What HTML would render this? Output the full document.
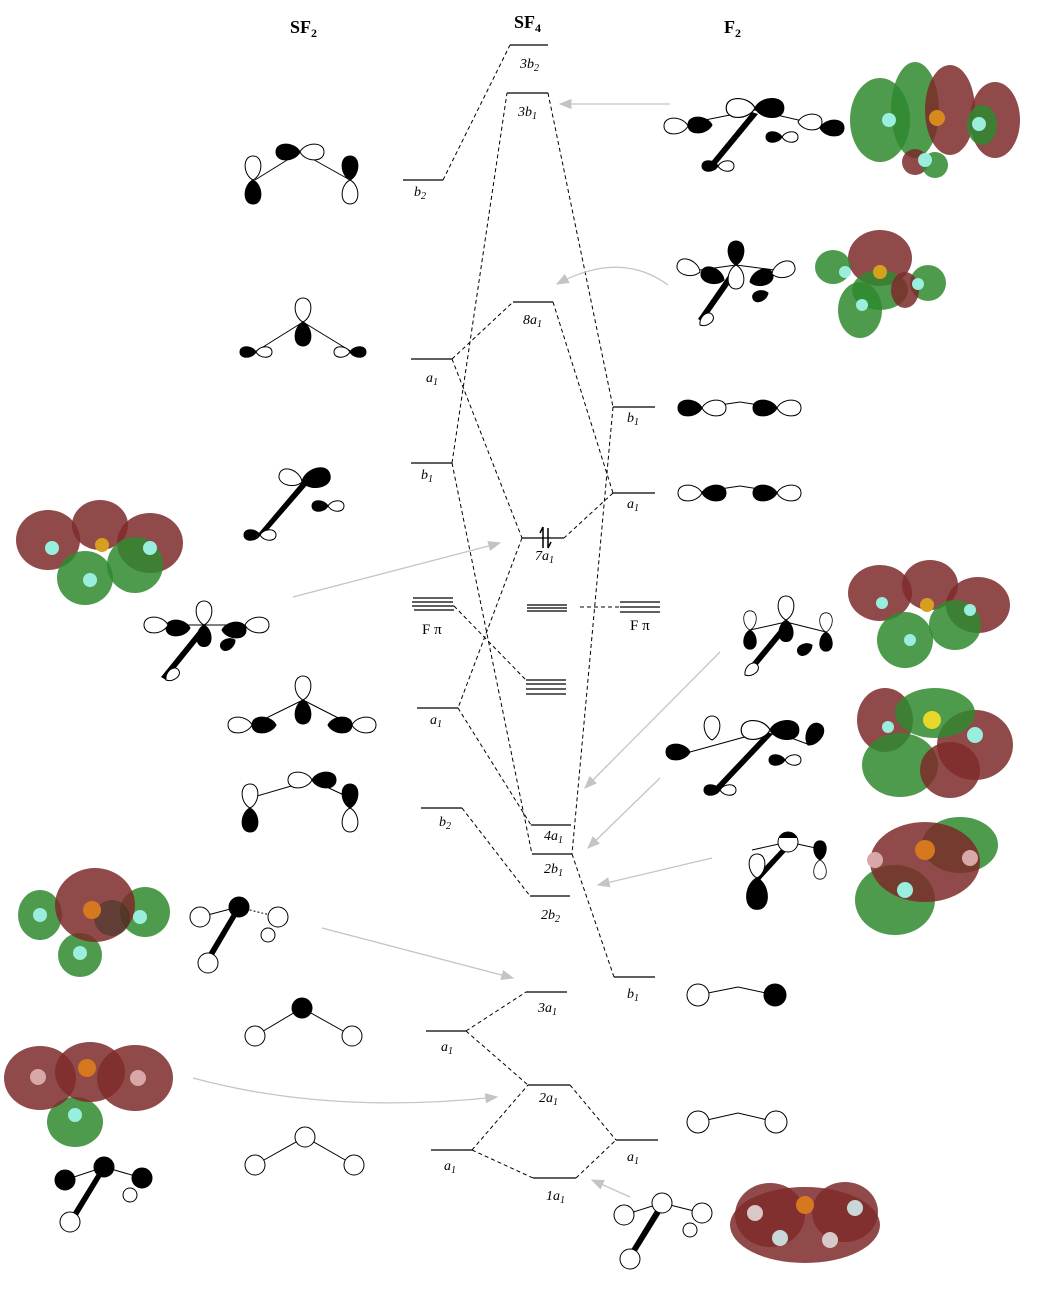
<!DOCTYPE html>
<html><head><meta charset="utf-8"><style>
html,body{margin:0;padding:0;background:#fff}
svg{display:block}
text{font-family:"Liberation Serif",serif}
.lv{stroke:#000;stroke-width:1.3}
.d{stroke:#000;stroke-width:1;stroke-dasharray:4,3;fill:none}
.g{stroke:#c4c4c4;stroke-width:1.3;fill:none}
.it{font-style:italic;font-size:14px}
.b{fill:#000;stroke:#000;stroke-width:1}
.w{fill:#fff;stroke:#000;stroke-width:1}
.R{fill:#7e2a2a;opacity:.85}
.G{fill:#2f8a2f;opacity:.85}
</style></head><body>
<svg width="1057" height="1293" viewBox="0 0 1057 1293" xmlns="http://www.w3.org/2000/svg">
<defs>
<path id="L" d="M0,0 C5,-10 24,-11 24,0 C24,11 5,10 0,0Z"/>
<path id="S" d="M0,0 C4,-7 16,-7 16,0 C16,7 4,7 0,0Z"/>
<marker id="ah" markerWidth="10" markerHeight="8" refX="9" refY="4" orient="auto"><path d="M0,0 L10,4 L0,8 Z" fill="#c4c4c4"/></marker>
</defs>

<text x="290" y="33" font-size="18" font-weight="bold">SF<tspan font-size="12" dy="4">2</tspan></text>
<text x="514" y="28" font-size="18" font-weight="bold">SF<tspan font-size="12" dy="4">4</tspan></text>
<text x="724" y="33" font-size="18" font-weight="bold">F<tspan font-size="12" dy="4">2</tspan></text>

<!-- levels -->
<g class="lv">
<line x1="510" y1="45" x2="548" y2="45"/>
<line x1="507" y1="93" x2="548" y2="93"/>
<line x1="403" y1="180" x2="443" y2="180"/>
<line x1="513" y1="302" x2="553" y2="302"/>
<line x1="411" y1="359" x2="452" y2="359"/>
<line x1="613" y1="407" x2="655" y2="407"/>
<line x1="411" y1="463" x2="452" y2="463"/>
<line x1="613" y1="493" x2="655" y2="493"/>
<line x1="522" y1="538" x2="564" y2="538"/>
<line x1="413" y1="598" x2="453" y2="598"/><line x1="412" y1="602" x2="453" y2="602"/><line x1="412" y1="606" x2="454" y2="606"/><line x1="414" y1="610" x2="454" y2="610"/>
<line x1="527" y1="605" x2="567" y2="605"/><line x1="527" y1="608" x2="567" y2="608"/><line x1="527" y1="611" x2="567" y2="611"/>
<line x1="620" y1="602" x2="660" y2="602"/><line x1="620" y1="607" x2="660" y2="607"/><line x1="620" y1="612" x2="660" y2="612"/>
<line x1="526" y1="680" x2="566" y2="680"/><line x1="526" y1="684" x2="566" y2="684"/><line x1="526" y1="689" x2="566" y2="689"/><line x1="526" y1="694" x2="566" y2="694"/>
<line x1="417" y1="708" x2="458" y2="708"/>
<line x1="421" y1="808" x2="462" y2="808"/>
<line x1="531" y1="825" x2="571" y2="825"/>
<line x1="532" y1="854" x2="572" y2="854"/>
<line x1="530" y1="896" x2="570" y2="896"/>
<line x1="614" y1="977" x2="655" y2="977"/>
<line x1="526" y1="992" x2="567" y2="992"/>
<line x1="426" y1="1031" x2="466" y2="1031"/>
<line x1="528" y1="1085" x2="570" y2="1085"/>
<line x1="616" y1="1140" x2="658" y2="1140"/>
<line x1="431" y1="1150" x2="472" y2="1150"/>
<line x1="533" y1="1178" x2="576" y2="1178"/>
</g>
<!-- electrons -->
<path d="M543,527 L543,548 M540,533 L543,527 M548,528 L548,548 L551,542" stroke="#000" stroke-width="1.5" fill="none"/>

<!-- labels -->
<g class="it">
<text x="520" y="68">3b<tspan font-size="10" dy="3">2</tspan></text>
<text x="518" y="116">3b<tspan font-size="10" dy="3">1</tspan></text>
<text x="414" y="196">b<tspan font-size="10" dy="3">2</tspan></text>
<text x="523" y="324">8a<tspan font-size="10" dy="3">1</tspan></text>
<text x="426" y="382">a<tspan font-size="10" dy="3">1</tspan></text>
<text x="627" y="422">b<tspan font-size="10" dy="3">1</tspan></text>
<text x="421" y="479">b<tspan font-size="10" dy="3">1</tspan></text>
<text x="627" y="508">a<tspan font-size="10" dy="3">1</tspan></text>
<text x="535" y="560">7a<tspan font-size="10" dy="3">1</tspan></text>
<text x="430" y="724">a<tspan font-size="10" dy="3">1</tspan></text>
<text x="439" y="826">b<tspan font-size="10" dy="3">2</tspan></text>
<text x="544" y="840">4a<tspan font-size="10" dy="3">1</tspan></text>
<text x="544" y="873">2b<tspan font-size="10" dy="3">1</tspan></text>
<text x="541" y="919">2b<tspan font-size="10" dy="3">2</tspan></text>
<text x="627" y="998">b<tspan font-size="10" dy="3">1</tspan></text>
<text x="538" y="1012">3a<tspan font-size="10" dy="3">1</tspan></text>
<text x="441" y="1051">a<tspan font-size="10" dy="3">1</tspan></text>
<text x="539" y="1102">2a<tspan font-size="10" dy="3">1</tspan></text>
<text x="627" y="1161">a<tspan font-size="10" dy="3">1</tspan></text>
<text x="444" y="1170">a<tspan font-size="10" dy="3">1</tspan></text>
<text x="546" y="1200">1a<tspan font-size="10" dy="3">1</tspan></text>
</g>
<text x="422" y="634" font-size="15">F π</text>
<text x="630" y="630" font-size="15">F π</text>

<!-- dashed connectors -->
<g class="d">
<line x1="443" y1="180" x2="510" y2="45"/>
<line x1="452" y1="463" x2="507" y2="93"/>
<line x1="548" y1="93" x2="613" y2="407"/>
<line x1="452" y1="359" x2="513" y2="302"/>
<line x1="553" y1="302" x2="613" y2="493"/>
<line x1="452" y1="359" x2="522" y2="538"/>
<line x1="613" y1="407" x2="572" y2="854"/>
<line x1="613" y1="493" x2="564" y2="538"/>
<line x1="452" y1="463" x2="532" y2="854"/>
<line x1="522" y1="538" x2="458" y2="708"/>
<line x1="458" y1="708" x2="531" y2="825"/>
<line x1="454" y1="606" x2="526" y2="680"/>
<line x1="580" y1="607" x2="620" y2="607"/>
<line x1="462" y1="808" x2="530" y2="896"/>
<line x1="572" y1="854" x2="614" y2="977"/>
<line x1="466" y1="1031" x2="526" y2="992"/>
<line x1="466" y1="1031" x2="528" y2="1085"/>
<line x1="472" y1="1150" x2="528" y2="1085"/>
<line x1="472" y1="1150" x2="533" y2="1178"/>
<line x1="570" y1="1085" x2="616" y2="1140"/>
<line x1="576" y1="1178" x2="616" y2="1140"/>
</g>

<!-- gray arrows -->
<g class="g" marker-end="url(#ah)">
<line x1="670" y1="104" x2="560" y2="104"/>
<path d="M668,285 Q620,250 557,284"/>
<line x1="293" y1="597" x2="500" y2="543"/>
<line x1="720" y1="652" x2="585" y2="788"/>
<line x1="660" y1="778" x2="588" y2="848"/>
<line x1="712" y1="858" x2="598" y2="885"/>
<line x1="322" y1="928" x2="513" y2="978"/>
<path d="M193,1078 Q330,1115 497,1097"/>
<line x1="630" y1="1197" x2="592" y2="1180"/>
</g>

<!-- SF2 orbital sketches -->
<g>
 <!-- 1 b2 -->
 <line x1="255" y1="180" x2="300" y2="152" stroke="#000"/><line x1="300" y1="152" x2="350" y2="180" stroke="#000"/>
 <use href="#L" class="b" transform="translate(300,152) rotate(180)"/><use href="#L" class="w" transform="translate(300,152)"/>
 <use href="#L" class="w" transform="translate(253,180) rotate(-90)"/><use href="#L" class="b" transform="translate(253,180) rotate(90)"/>
 <use href="#L" class="b" transform="translate(350,180) rotate(-90)"/><use href="#L" class="w" transform="translate(350,180) rotate(90)"/>
 <!-- 2 a1 -->
 <line x1="255" y1="352" x2="303" y2="322" stroke="#000"/><line x1="303" y1="322" x2="352" y2="352" stroke="#000"/>
 <use href="#L" class="w" transform="translate(303,322) rotate(-90)"/><use href="#L" class="b" transform="translate(303,322) rotate(90)"/>
 <use href="#S" class="b" transform="translate(256,352) rotate(180)"/><use href="#S" class="w" transform="translate(256,352)"/>
 <use href="#S" class="b" transform="translate(350,352)"/><use href="#S" class="w" transform="translate(350,352) rotate(180)"/>
 <!-- 3 b1 -->
 <polygon points="302,482 308,484 262,537 258,534" fill="#000"/>
 <use href="#L" class="w" transform="translate(302,482) rotate(-160)"/><use href="#L" class="b" transform="translate(302,482) rotate(-15) scale(1.2)"/>
 <use href="#S" class="b" transform="translate(260,535) rotate(180)"/><use href="#S" class="w" transform="translate(260,535)"/>
 <use href="#S" class="b" transform="translate(328,506) rotate(180)"/><use href="#S" class="w" transform="translate(328,506)"/>
 <!-- 4 -->
 <polygon points="203,625 208,628 166,680 161,677" fill="#000"/>
 <line x1="170" y1="625" x2="204" y2="625" stroke="#000"/><line x1="204" y1="625" x2="245" y2="625" stroke="#000"/>
 <use href="#L" class="w" transform="translate(204,625) rotate(-90)"/><use href="#L" class="b" transform="translate(204,625) rotate(90) scale(.9)"/>
 <use href="#L" class="b" transform="translate(190,628) rotate(180)"/><use href="#L" class="w" transform="translate(168,625) rotate(180)"/>
 <use href="#L" class="b" transform="translate(222,630)"/><use href="#L" class="w" transform="translate(245,625)"/>
 <use href="#S" class="b" transform="translate(235,640) rotate(150)"/>
 <use href="#S" class="w" transform="translate(166,680) rotate(-40)"/>
 <!-- 5 a1 -->
 <line x1="252" y1="725" x2="303" y2="700" stroke="#000"/><line x1="303" y1="700" x2="352" y2="725" stroke="#000"/>
 <use href="#L" class="w" transform="translate(303,700) rotate(-90)"/><use href="#L" class="b" transform="translate(303,700) rotate(90)"/>
 <use href="#L" class="b" transform="translate(276,725) rotate(180)"/><use href="#L" class="w" transform="translate(252,725) rotate(180)"/>
 <use href="#L" class="b" transform="translate(328,725)"/><use href="#L" class="w" transform="translate(352,725)"/>
 <!-- 6 b2 -->
 <line x1="250" y1="798" x2="312" y2="780" stroke="#000"/><line x1="312" y1="780" x2="350" y2="798" stroke="#000"/>
 <use href="#L" class="w" transform="translate(312,780) rotate(180)"/><use href="#L" class="b" transform="translate(312,780)"/>
 <use href="#L" class="w" transform="translate(250,808) rotate(-90)"/><use href="#L" class="b" transform="translate(250,808) rotate(90)"/>
 <use href="#L" class="b" transform="translate(350,808) rotate(-90)"/><use href="#L" class="w" transform="translate(350,808) rotate(90)"/>
 <!-- 7 -->
 <line x1="200" y1="917" x2="238" y2="907" stroke="#000"/><line x1="238" y1="907" x2="278" y2="917" stroke="#000" stroke-dasharray="2,2"/>
 <polygon points="236,907 241,909 210,962 205,959" fill="#000"/>
 <circle cx="200" cy="917" r="10" class="w"/><circle cx="278" cy="917" r="10" class="w"/><circle cx="268" cy="935" r="7" class="w"/>
 <circle cx="208" cy="963" r="10" class="w"/><circle cx="239" cy="907" r="10" class="b"/>
 <!-- 8 -->
 <line x1="255" y1="1036" x2="302" y2="1008" stroke="#000"/><line x1="302" y1="1008" x2="352" y2="1036" stroke="#000"/>
 <circle cx="302" cy="1008" r="10" class="b"/><circle cx="255" cy="1036" r="10" class="w"/><circle cx="352" cy="1036" r="10" class="w"/>
 <!-- 9 -->
 <line x1="255" y1="1165" x2="305" y2="1137" stroke="#000"/><line x1="305" y1="1137" x2="354" y2="1165" stroke="#000"/>
 <circle cx="305" cy="1137" r="10" class="w"/><circle cx="255" cy="1165" r="10" class="w"/><circle cx="354" cy="1165" r="10" class="w"/>
 <!-- 10 -->
 <line x1="65" y1="1180" x2="104" y2="1167" stroke="#000"/><line x1="104" y1="1167" x2="142" y2="1178" stroke="#000"/>
 <polygon points="101,1167 106,1169 74,1222 69,1219" fill="#000"/>
 <circle cx="130" cy="1195" r="7" class="w"/>
 <circle cx="65" cy="1180" r="10" class="b"/><circle cx="104" cy="1167" r="10" class="b"/><circle cx="142" cy="1178" r="10" class="b"/><circle cx="70" cy="1222" r="10" class="w"/>
</g>

<!-- F2 column sketches -->
<g>
 <!-- top -->
 <line x1="690" y1="123" x2="755" y2="110" stroke="#000"/><line x1="755" y1="110" x2="820" y2="125" stroke="#000"/>
 <polygon points="752,112 758,114 716,165 711,162" fill="#000"/>
 <use href="#L" class="w" transform="translate(755,108) rotate(180) scale(1.2)"/><use href="#L" class="b" transform="translate(755,108) scale(1.2)"/>
 <use href="#L" class="b" transform="translate(712,125) rotate(180)"/><use href="#L" class="w" transform="translate(688,126) rotate(180)"/>
 <use href="#L" class="w" transform="translate(798,122)"/><use href="#L" class="b" transform="translate(820,128)"/>
 <use href="#S" class="b" transform="translate(782,137) rotate(180)"/><use href="#S" class="w" transform="translate(782,137)"/>
 <use href="#S" class="b" transform="translate(718,166) rotate(180)"/><use href="#S" class="w" transform="translate(718,166)"/>
 <!-- second -->
 <line x1="700" y1="270" x2="736" y2="265" stroke="#000"/><line x1="736" y1="265" x2="775" y2="270" stroke="#000"/>
 <polygon points="734,267 740,269 703,322 698,319" fill="#000"/>
 <use href="#L" class="b" transform="translate(736,265) rotate(-90)"/><use href="#L" class="w" transform="translate(736,265) rotate(90)"/>
 <use href="#L" class="b" transform="translate(724,280) rotate(-160)"/><use href="#L" class="w" transform="translate(700,272) rotate(-160)"/>
 <use href="#L" class="b" transform="translate(750,282) rotate(-20)"/><use href="#L" class="w" transform="translate(772,274) rotate(-20)"/>
 <use href="#S" class="b" transform="translate(768,293) rotate(160)"/><use href="#S" class="w" transform="translate(700,325) rotate(-40)"/>
 <!-- b1 -->
 <line x1="700" y1="408" x2="740" y2="402" stroke="#000"/><line x1="740" y1="402" x2="778" y2="408" stroke="#000"/>
 <use href="#L" class="b" transform="translate(702,408) rotate(180)"/><use href="#L" class="w" transform="translate(702,408)"/>
 <use href="#L" class="b" transform="translate(777,408) rotate(180)"/><use href="#L" class="w" transform="translate(777,408)"/>
 <!-- a1 -->
 <line x1="700" y1="492" x2="740" y2="486" stroke="#000"/><line x1="740" y1="486" x2="778" y2="492" stroke="#000"/>
 <use href="#L" class="w" transform="translate(702,493) rotate(180)"/><use href="#L" class="b" transform="translate(702,493)"/>
 <use href="#L" class="b" transform="translate(777,493) rotate(180)"/><use href="#L" class="w" transform="translate(777,493)"/>
 <!-- 640 -->
 <line x1="750" y1="630" x2="786" y2="622" stroke="#000"/><line x1="786" y1="622" x2="826" y2="632" stroke="#000"/>
 <polygon points="784,624 790,626 752,672 747,669" fill="#000"/>
 <use href="#L" class="w" transform="translate(786,620) rotate(-90)"/><use href="#L" class="b" transform="translate(786,620) rotate(90) scale(.9)"/>
 <use href="#L" class="w" transform="translate(750,630) rotate(-90) scale(.8)"/><use href="#L" class="b" transform="translate(750,630) rotate(90) scale(.8)"/>
 <use href="#L" class="w" transform="translate(826,632) rotate(-90) scale(.8)"/><use href="#L" class="b" transform="translate(826,632) rotate(90) scale(.8)"/>
 <use href="#S" class="b" transform="translate(812,645) rotate(150)"/><use href="#S" class="w" transform="translate(745,675) rotate(-40)"/>
 <!-- 760 -->
 <line x1="690" y1="752" x2="770" y2="730" stroke="#000"/><line x1="770" y1="730" x2="810" y2="745" stroke="#000"/>
 <polygon points="767,732 773,734 720,790 715,787" fill="#000"/>
 <use href="#L" class="w" transform="translate(770,730) rotate(180) scale(1.2)"/><use href="#L" class="b" transform="translate(770,730) scale(1.2)"/>
 <use href="#L" class="w" transform="translate(712,740) rotate(-90)"/><use href="#L" class="b" transform="translate(690,752) rotate(180)"/>
 <use href="#L" class="b" transform="translate(808,745) rotate(-60)"/><use href="#S" class="b" transform="translate(785,760) rotate(180)"/><use href="#S" class="w" transform="translate(785,760)"/>
 <use href="#S" class="b" transform="translate(720,790) rotate(180)"/><use href="#S" class="w" transform="translate(720,790)"/>
 <!-- 860 -->
 <line x1="752" y1="850" x2="788" y2="842" stroke="#000"/><line x1="788" y1="842" x2="825" y2="850" stroke="#000"/>
 <polygon points="786,844 791,846 760,880 755,877" fill="#000"/>
 <use href="#L" class="w" transform="translate(757,878) rotate(-90)"/><use href="#L" class="b" transform="translate(757,878) rotate(90) scale(1.3)"/>
 <use href="#L" class="b" transform="translate(820,860) rotate(-90) scale(.8)"/><use href="#L" class="w" transform="translate(820,860) rotate(90) scale(.8)"/>
 <circle cx="788" cy="842" r="10" class="w"/><path d="M779,838 A10,10 0 0 1 797,838 Z" fill="#000"/>
 <!-- b1 circles -->
 <line x1="698" y1="995" x2="738" y2="987" stroke="#000"/><line x1="738" y1="987" x2="775" y2="995" stroke="#000"/>
 <circle cx="698" cy="995" r="11" class="w"/><circle cx="775" cy="995" r="11" class="b"/>
 <line x1="698" y1="1122" x2="738" y2="1113" stroke="#000"/><line x1="738" y1="1113" x2="776" y2="1122" stroke="#000"/>
 <circle cx="698" cy="1122" r="11" class="w"/><circle cx="776" cy="1122" r="11" class="w"/>
 <!-- bottom -->
 <line x1="624" y1="1215" x2="662" y2="1203" stroke="#000"/><line x1="662" y1="1203" x2="702" y2="1213" stroke="#000"/>
 <polygon points="659,1204 665,1206 634,1256 629,1253" fill="#000"/>
 <circle cx="690" cy="1230" r="7" class="w"/>
 <circle cx="624" cy="1215" r="10" class="w"/><circle cx="662" cy="1203" r="10" class="w"/><circle cx="702" cy="1213" r="10" class="w"/><circle cx="630" cy="1259" r="10" class="w"/>
</g>

<!-- isosurfaces -->
<g>
 <!-- top right -->
 <ellipse cx="880" cy="120" rx="30" ry="42" class="G"/><ellipse cx="915" cy="110" rx="24" ry="48" class="G"/>
 <ellipse cx="950" cy="110" rx="25" ry="45" class="R"/><ellipse cx="995" cy="120" rx="25" ry="38" class="R"/>
 <ellipse cx="982" cy="125" rx="15" ry="20" class="G"/><ellipse cx="915" cy="162" rx="13" ry="13" class="R"/><ellipse cx="935" cy="165" rx="13" ry="13" class="G"/>
 <circle cx="937" cy="118" r="8" fill="#d68a1e"/><circle cx="889" cy="120" r="7" fill="#9ed"/><circle cx="979" cy="124" r="7" fill="#9ed"/><circle cx="925" cy="160" r="7" fill="#9ed"/>
 <!-- second -->
 <ellipse cx="880" cy="258" rx="32" ry="28" class="R"/><ellipse cx="833" cy="267" rx="18" ry="17" class="G"/><ellipse cx="928" cy="283" rx="18" ry="18" class="G"/>
 <ellipse cx="860" cy="310" rx="22" ry="28" class="G"/><ellipse cx="880" cy="290" rx="28" ry="20" class="G"/><ellipse cx="905" cy="290" rx="14" ry="18" class="R"/>
 <circle cx="880" cy="272" r="7" fill="#d6a01e"/><circle cx="845" cy="272" r="6" fill="#9ed"/><circle cx="918" cy="284" r="6" fill="#9ed"/><circle cx="862" cy="305" r="6" fill="#9ed"/>
 <!-- left 550 -->
 <ellipse cx="48" cy="540" rx="32" ry="30" class="R"/><ellipse cx="100" cy="525" rx="28" ry="25" class="R"/><ellipse cx="150" cy="543" rx="33" ry="30" class="R"/>
 <ellipse cx="85" cy="578" rx="28" ry="27" class="G"/><ellipse cx="135" cy="565" rx="28" ry="28" class="G"/>
 <circle cx="102" cy="545" r="7" fill="#d6a01e"/><circle cx="52" cy="548" r="7" fill="#9ed"/><circle cx="150" cy="548" r="7" fill="#9ed"/><circle cx="90" cy="580" r="7" fill="#9ed"/>
 <!-- right 615 -->
 <ellipse cx="880" cy="593" rx="32" ry="28" class="R"/><ellipse cx="930" cy="585" rx="28" ry="25" class="R"/><ellipse cx="978" cy="605" rx="32" ry="28" class="R"/>
 <ellipse cx="905" cy="640" rx="28" ry="28" class="G"/><ellipse cx="955" cy="625" rx="26" ry="25" class="G"/>
 <circle cx="927" cy="605" r="7" fill="#d6a01e"/><circle cx="882" cy="603" r="6" fill="#9ed"/><circle cx="970" cy="610" r="6" fill="#9ed"/><circle cx="910" cy="640" r="6" fill="#9ed"/>
 <!-- right 740 -->
 <ellipse cx="885" cy="720" rx="28" ry="32" class="R"/><ellipse cx="975" cy="745" rx="38" ry="35" class="R"/>
 <ellipse cx="935" cy="713" rx="40" ry="25" class="G"/><ellipse cx="900" cy="765" rx="38" ry="32" class="G"/><ellipse cx="950" cy="770" rx="30" ry="28" class="R"/>
 <circle cx="932" cy="720" r="9" fill="#e8d82a"/><circle cx="975" cy="735" r="8" fill="#9ed"/><circle cx="888" cy="727" r="6" fill="#9ed"/>
 <!-- right 870 -->
 <ellipse cx="960" cy="845" rx="38" ry="28" class="G"/><ellipse cx="895" cy="900" rx="40" ry="35" class="G"/>
 <ellipse cx="925" cy="862" rx="55" ry="40" class="R"/>
 <circle cx="925" cy="850" r="10" fill="#d6781e"/><circle cx="875" cy="860" r="8" fill="#d8a8a8"/><circle cx="970" cy="858" r="8" fill="#d8a8a8"/><circle cx="905" cy="890" r="8" fill="#9ed"/>
 <!-- left 915 -->
 <ellipse cx="40" cy="915" rx="22" ry="25" class="G"/><ellipse cx="145" cy="912" rx="25" ry="25" class="G"/><ellipse cx="80" cy="955" rx="22" ry="22" class="G"/>
 <ellipse cx="95" cy="905" rx="40" ry="37" class="R"/><ellipse cx="112" cy="918" rx="18" ry="18" fill="#332" opacity=".5"/>
 <circle cx="92" cy="910" r="9" fill="#d6781e"/><circle cx="40" cy="915" r="7" fill="#9ed"/><circle cx="140" cy="917" r="7" fill="#9ed"/><circle cx="80" cy="953" r="7" fill="#9ed"/>
 <!-- left 1090 -->
 <ellipse cx="75" cy="1122" rx="28" ry="25" class="G"/>
 <ellipse cx="40" cy="1078" rx="36" ry="32" class="R"/><ellipse cx="135" cy="1078" rx="38" ry="33" class="R"/><ellipse cx="90" cy="1072" rx="35" ry="30" class="R"/>
 <circle cx="87" cy="1068" r="9" fill="#d6781e"/><circle cx="38" cy="1077" r="8" fill="#d8a8a8"/><circle cx="138" cy="1078" r="8" fill="#d8a8a8"/><circle cx="75" cy="1115" r="7" fill="#9ed"/>
 <!-- bottom right -->
 <ellipse cx="805" cy="1225" rx="75" ry="38" class="R"/><ellipse cx="770" cy="1215" rx="35" ry="32" class="R"/><ellipse cx="845" cy="1212" rx="33" ry="30" class="R"/>
 <circle cx="805" cy="1205" r="9" fill="#d6781e"/><circle cx="755" cy="1213" r="8" fill="#d8c8c8"/><circle cx="855" cy="1208" r="8" fill="#c8d8d8"/><circle cx="780" cy="1238" r="8" fill="#c8d8d8"/><circle cx="830" cy="1240" r="8" fill="#d8c8c8"/>
</g>
</svg>
</body></html>
